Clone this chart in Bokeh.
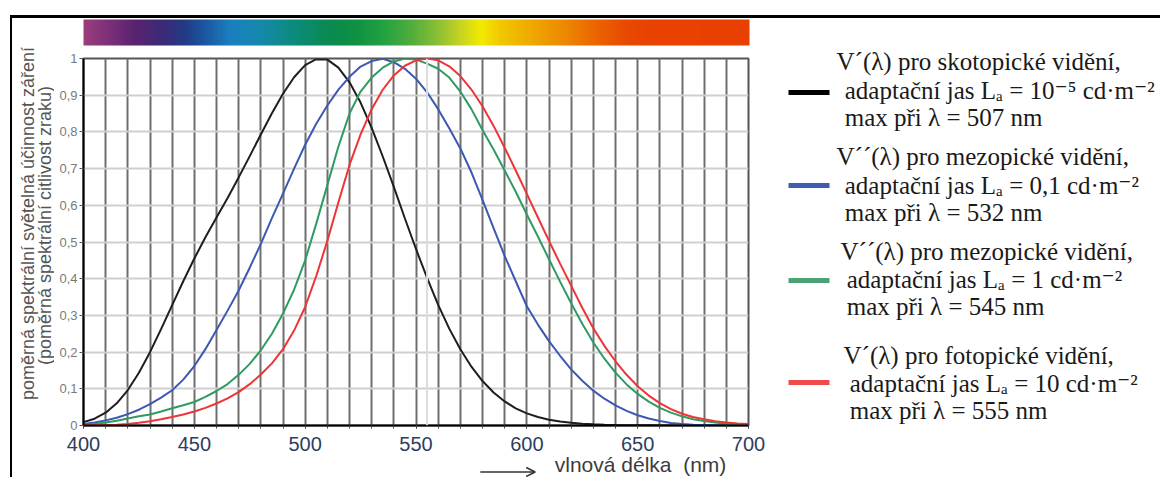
import numpy as np
from bokeh.plotting import figure
from bokeh.layouts import row, column
from bokeh.models import (FixedTicker, ColorBar, LinearColorMapper, Span, Arrow,
                          OpenHead, CustomJSTickFormatter, Range1d)
from bokeh.embed import file_html
from bokeh.resources import INLINE
from bokeh.core.properties import value

# ---------------- data ----------------
wavelength = list(range(400, 701, 5))

scotopic_507 = [0.00929, 0.01852, 0.03484, 0.0604, 0.0966, 0.1436, 0.1998, 0.2625,
                0.3281, 0.3931, 0.455, 0.513, 0.567, 0.620, 0.676, 0.734, 0.793,
                0.851, 0.904, 0.949, 0.982, 0.998, 0.997, 0.975, 0.935, 0.880,
                0.811, 0.733, 0.650, 0.564, 0.481, 0.402, 0.3288, 0.2639, 0.2076,
                0.1602, 0.1212, 0.0899, 0.0655, 0.0469, 0.03315, 0.02312, 0.01593,
                0.01088, 0.00737, 0.00497, 0.003335, 0.002235, 0.0015, 0.001005,
                0.000677, 0.000459, 0.000313, 0.000215, 0.000148, 0.000103,
                0.0000715, 0.00005, 0.0000353, 0.000025, 0.0000178]

mesopic_532 = [0.004, 0.008, 0.014, 0.021, 0.031, 0.043, 0.058, 0.076, 0.096, 0.125,
               0.162, 0.208, 0.260, 0.313, 0.368, 0.430, 0.495, 0.565, 0.632, 0.700,
               0.765, 0.822, 0.872, 0.915, 0.950, 0.978, 0.993, 0.999, 0.990, 0.972,
               0.945, 0.908, 0.862, 0.810, 0.755, 0.690, 0.615, 0.538, 0.462, 0.393,
               0.325, 0.275, 0.230, 0.190, 0.153, 0.122, 0.095, 0.073, 0.055, 0.040,
               0.028, 0.019, 0.012, 0.007, 0.004, 0.002, 0.001, 0.0005, 0.0002,
               0.0001, 0.0]

mesopic_545 = [0.002, 0.004, 0.008, 0.013, 0.019, 0.025, 0.030, 0.038, 0.047, 0.055,
               0.064, 0.078, 0.094, 0.113, 0.138, 0.168, 0.205, 0.250, 0.305, 0.370,
               0.450, 0.550, 0.655, 0.760, 0.850, 0.910, 0.948, 0.975, 0.992, 1.000,
               0.997, 0.986, 0.972, 0.948, 0.910, 0.862, 0.805, 0.752, 0.695, 0.637,
               0.575, 0.515, 0.453, 0.392, 0.333, 0.277, 0.226, 0.182, 0.144, 0.112,
               0.086, 0.065, 0.048, 0.035, 0.025, 0.017, 0.012, 0.008, 0.005, 0.003,
               0.002]

photopic_555 = [0.0004, 0.00064, 0.0012, 0.00218, 0.004, 0.0073, 0.0116, 0.01684,
                0.023, 0.0298, 0.038, 0.048, 0.060, 0.0739, 0.09098, 0.1126, 0.13902,
                0.1693, 0.20802, 0.2586, 0.323, 0.4073, 0.503, 0.6082, 0.710, 0.7932,
                0.862, 0.91485, 0.954, 0.9803, 0.99495, 1.0, 0.995, 0.9786, 0.952,
                0.9154, 0.870, 0.8163, 0.757, 0.6949, 0.631, 0.5668, 0.503, 0.4412,
                0.381, 0.321, 0.265, 0.217, 0.175, 0.1382, 0.107, 0.0816, 0.061,
                0.04458, 0.032, 0.0232, 0.017, 0.01192, 0.00821, 0.005723, 0.004102]

y_ticks = [0, 0.1, 0.2, 0.3, 0.4, 0.5, 0.6, 0.7, 0.8, 0.9, 1.0]
x_ticks = [400, 450, 500, 550, 600, 650, 700]
grid_x = list(range(400, 701, 10))

series_colors = ["#1e1e1e", "#3b58b2", "#2f9a62", "#ee3434"]
swatch_colors = ["#000000", "#3f5cb2", "#4ca274", "#f04a4a"]

ylabel_lines = ["poměrná spektrální světelná účinnost záření",
                "(poměrná spektrální citlivost zraku)"]
xlabel_text = "vlnová délka\u00a0\u00a0(nm)"

legend_lines = [
    ["V\u00b4(\u03bb) pro skotopické vidění,", "\u00a0adaptační jas L\u2090 = 10\u207b\u2075 cd·m\u207b\u00b2", "\u00a0max při \u03bb = 507 nm"],
    ["V\u00b4\u00b4(\u03bb) pro mezopické vidění,", "\u00a0adaptační jas L\u2090 = 0,1 cd·m\u207b\u00b2", "\u00a0max při \u03bb = 532 nm"],
    ["V\u00b4\u00b4(\u03bb) pro mezopické vidění,", "\u00a0adaptační jas L\u2090 = 1 cd·m\u207b\u00b2", "\u00a0max při \u03bb = 545 nm"],
    ["V\u00b4(\u03bb) pro fotopické vidění,", "\u00a0adaptační jas L\u2090 = 10 cd·m\u207b\u00b2", "\u00a0max při \u03bb = 555 nm"],
]

# spectrum bar colour stops (wavelength, colour)
spec_nm = [400, 412, 422, 435, 445, 455, 466, 478, 488, 498, 510, 523, 535, 548,
           561, 570, 579, 588, 603, 618, 633, 645, 656, 700]
spec_col = ["#9c3d7d", "#7a2f78", "#5c2371", "#3c2a78", "#243a84", "#1a5aa2",
            "#1a80c0", "#1688b0", "#108a92", "#0a8c72", "#0a8a52", "#109242",
            "#22a242", "#52ae3c", "#92c232", "#c8d422", "#f2ec00", "#f2c800",
            "#f0a600", "#ee8600", "#ec6000", "#e84a00", "#e84200", "#e84000"]

SERIF = "Liberation Serif, Times New Roman, DejaVu Serif, serif"
SANS = "Liberation Sans, Arial, DejaVu Sans, sans-serif"


def helper_fig(x0, x1, y0, y1, flip=True, transparent=False, styles=None):
    """blank figure whose data coordinates are page pixels"""
    f = figure(width=x1 - x0, height=y1 - y0,
               x_range=Range1d(x0, x1),
               y_range=Range1d(y1, y0) if flip else Range1d(-y1, -y0),
               min_border=0, min_border_left=0, min_border_right=0,
               min_border_top=0, min_border_bottom=0,
               x_axis_location=None, y_axis_location=None,
               output_backend="svg", toolbar_location=None,
               background_fill_color="white", border_fill_color="white",
               styles=styles or {})
    if transparent:
        f.background_fill_alpha = 0
        f.border_fill_alpha = 0
    f.outline_line_color = None
    f.xgrid.visible = False
    f.ygrid.visible = False
    return f


# ---------------- main chart (page x 54..768, y 18..459) ----------------
FW, FH = 665, 367
p = figure(frame_width=FW, frame_height=FH,
           x_range=Range1d(400, 700), y_range=Range1d(0, 1),
           min_border_left=29, min_border_top=40, min_border_right=20,
           min_border_bottom=34, output_backend="svg", toolbar_location=None,
           background_fill_color="white", border_fill_color="white")

p.outline_line_color = "#555555"
p.outline_line_width = 2

p.xgrid.ticker = FixedTicker(ticks=grid_x)
p.xgrid.grid_line_color = "#6e6e6e"
p.xgrid.grid_line_width = 2
p.ygrid.ticker = FixedTicker(ticks=y_ticks)
p.ygrid.grid_line_color = "#cfcfcf"
p.ygrid.grid_line_width = 2
p.add_layout(Span(location=555, dimension="height", line_color="#dcdcdc", line_width=2))

xa = p.xaxis[0]
xa.ticker = FixedTicker(ticks=x_ticks, minor_ticks=grid_x)
xa.axis_line_color = "black"
xa.axis_line_width = 2
xa.major_tick_out = 3
xa.major_tick_in = 0
xa.minor_tick_out = 3
xa.minor_tick_in = 0
xa.major_tick_line_color = "#444444"
xa.minor_tick_line_color = "#444444"
xa.major_label_text_font = SANS
xa.major_label_text_font_size = "20px"
xa.major_label_text_color = "#2e3d60"
xa.major_label_standoff = 8

ya = p.yaxis[0]
ya.ticker = FixedTicker(ticks=y_ticks)
ya.formatter = CustomJSTickFormatter(code="""
    if (Math.abs(tick) < 1e-9) return '0';
    if (Math.abs(tick - 1) < 1e-9) return '1';
    return tick.toFixed(1).replace('.', ',');
""")
ya.axis_line_color = "black"
ya.axis_line_width = 2
ya.major_tick_out = 4
ya.major_tick_in = 0
ya.minor_tick_line_color = None
ya.major_tick_line_color = "#555555"
ya.major_label_text_font = SANS
ya.major_label_text_font_size = "13px"
ya.major_label_text_color = "#7a7a7a"
ya.major_label_standoff = 2

for vals, col in zip([scotopic_507, mesopic_532, mesopic_545, photopic_555], series_colors):
    p.line(wavelength, vals, line_color=col, line_width=2)

# spectrum bar
palette = []
rgb = np.array([[int(c[i:i + 2], 16) for i in (1, 3, 5)] for c in spec_col], dtype=float)
for w in np.linspace(400, 700, 300):
    r, g, b = (np.interp(w, spec_nm, rgb[:, k]) for k in range(3))
    palette.append("#%02x%02x%02x" % (int(r), int(g), int(b)))
mapper = LinearColorMapper(palette=palette, low=400, high=700)
cb = ColorBar(color_mapper=mapper, orientation="horizontal", width=FW + 1, height=26,
              location=(0, FH + 13), padding=0, margin=0,
              ticker=FixedTicker(ticks=[]), major_label_text_font_size="0px",
              major_tick_line_color=None, minor_tick_line_color=None,
              bar_line_color=None, border_line_color=None,
              background_fill_color=None)
p.add_layout(cb, "center")

# ---------------- y-axis title strip (page x 12..54) ----------------
fa = helper_fig(12, 54, 18, 477, flip=False)
fa.text(x=[27, 44.5], y=[-223, -225], text=ylabel_lines, angle=np.pi / 2,
        text_align="center", text_baseline="middle",
        text_font=value(SANS), text_font_size="18px", text_color="#555555")

# ---------------- x-axis title strip (page y 449..477, overlapping 10px) ----------------
fc = helper_fig(54, 768, 449, 477, transparent=True, styles={"margin-top": "-10px"})
fc.text(x=[560], y=[464], text=[xlabel_text], text_align="left", text_baseline="middle",
        text_font=value(SANS), text_font_size="21px", text_color="#3c3c3c")
fc.add_layout(Arrow(end=OpenHead(size=9, line_color="#333333", line_width=1.5),
                    x_start=480, y_start=471.5, x_end=539, y_end=471.5,
                    line_color="#333333", line_width=1.5))

# ---------------- legend strip (page x 768..1160) ----------------
fd = helper_fig(768, 1160, 18, 477)
line_y = [[61, 90, 117], [156, 185, 212], [251, 279, 306], [355, 383, 410]]
line_x = [[836, 838, 838], [836, 838, 838], [840, 840, 840], [843, 843, 843]]
swatch_y = [92, 185, 280, 382]
for k in range(4):
    fd.text(x=line_x[k], y=line_y[k], text=legend_lines[k], text_align="left",
            text_baseline="middle", text_font=value(SERIF),
            text_font_size="25px", text_color="#1a1a1a")
    fd.segment(x0=[788], y0=[swatch_y[k]], x1=[829], y1=[swatch_y[k]],
               line_color=swatch_colors[k], line_width=5)

layout = row(fa, column(p, fc, spacing=0), fd, spacing=0,
             styles={"position": "relative", "left": "10px", "top": "15px",
                     "border-top": "3px solid black", "border-left": "2px solid black"})

open("out.html", "w").write(file_html(layout, INLINE))
